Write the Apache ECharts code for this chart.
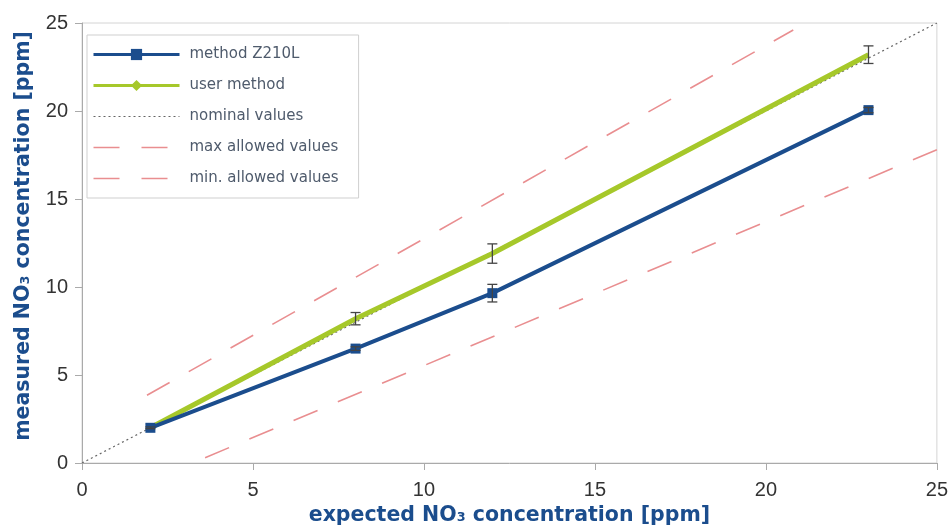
<!DOCTYPE html>
<html><head><meta charset="utf-8">
<script src="https://cdn.jsdelivr.net/npm/echarts@6/dist/echarts.min.js"></script>
<style>html,body{margin:0;padding:0;background:#fff}#c{width:951px;height:531px}</style>
</head><body><div id="c"></div>
<script>
const expected = [2, 8, 12, 23];
const z210L = [2.0, 6.5, 9.65, 20.05];
const z210LErr = [0.05, 0.1, 0.5, 0.15];
const userMethod = [2.0, 8.2, 11.9, 23.2];
const userErr = [0, 0.35, 0.55, 0.5];
const nominal = [[0, 0], [25, 25]];
const maxAllowed = [[1.9, 3.85], [20.8, 24.6]];
const minAllowed = [[3.6, 0.3], [25, 17.8]];
const axisTicks = [0, 5, 10, 15, 20, 25];

const blue = '#1b4d8d', green = '#a6c82a', red = '#e98e90';
const errData = [];
expected.forEach((x, i) => {
  errData.push([x, z210L[i] - z210LErr[i], z210L[i] + z210LErr[i]]);
  if (userErr[i] > 0) errData.push([x, userMethod[i] - userErr[i], userMethod[i] + userErr[i]]);
});

const chart = echarts.init(document.getElementById('c'));
const axisCommon = {
  type: 'value', min: axisTicks[0], max: axisTicks[axisTicks.length - 1], interval: 5,
  axisLine: { show: true, lineStyle: { color: '#aaa', width: 1 } },
  axisTick: { show: true, length: 7, lineStyle: { color: '#aaa' } },
  splitLine: { show: false },
  axisLabel: { color: '#333', fontSize: 20, fontFamily: 'Liberation Sans' },
  nameLocation: 'middle',
  nameTextStyle: { color: blue, fontSize: 20.5, fontWeight: 'bold', fontFamily: 'DejaVu Sans' }
};
chart.setOption({
  animation: false,
  grid: { left: 82, right: 12, top: 23, bottom: 66, show: true, borderColor: '#d4d4d4', borderWidth: 1 },
  xAxis: Object.assign({}, axisCommon, { name: 'expected NO₃ concentration [ppm]', nameGap: 42,
    axisLabel: Object.assign({}, axisCommon.axisLabel, { margin: 17 }) }),
  yAxis: Object.assign({}, axisCommon, { name: 'measured NO₃ concentration [ppm]', nameGap: 48,
    nameTextStyle: Object.assign({}, axisCommon.nameTextStyle, { padding: [0, 0, 0, 14] }),
    axisLabel: Object.assign({}, axisCommon.axisLabel, { margin: 14 }) }),
  legend: {
    orient: 'vertical', left: 87, top: 35, itemWidth: 86, itemHeight: 14, itemGap: 16,
    backgroundColor: '#fff', borderColor: '#cfcfcf', borderWidth: 1, padding: [12, 20, 12, 5],
    textStyle: { color: '#4f5b6c', fontSize: 15, fontFamily: 'DejaVu Sans', padding: [0, 0, 0, 5] },
    data: [
      { name: 'method Z210L', lineStyle: { width: 3 } },
      { name: 'user method', lineStyle: { width: 3 } },
      { name: 'nominal values', lineStyle: { width: 1.2 } },
      { name: 'max allowed values', lineStyle: { width: 1.6 } },
      { name: 'min. allowed values', lineStyle: { width: 1.6 } }
    ]
  },
  series: [
    { name: 'max allowed values', type: 'line', data: maxAllowed, symbol: 'none', z: 2,
      lineStyle: { color: red, width: 1.6, type: [26, 22] }, itemStyle: { color: 'rgba(0,0,0,0)' } },
    { name: 'min. allowed values', type: 'line', data: minAllowed, symbol: 'none', z: 2,
      lineStyle: { color: red, width: 1.6, type: [26, 22] }, itemStyle: { color: 'rgba(0,0,0,0)' } },
    { name: 'nominal values', type: 'line', data: nominal, symbol: 'none', z: 3,
      lineStyle: { color: '#666', width: 1.2, type: [2, 3] }, itemStyle: { color: 'rgba(0,0,0,0)' } },
    { name: 'user method', type: 'line', data: expected.map((x, i) => [x, userMethod[i]]),
      symbol: 'diamond', symbolSize: 9, showSymbol: false, z: 4,
      lineStyle: { color: green, width: 5 }, itemStyle: { color: green } },
    { name: 'method Z210L', type: 'line', data: expected.map((x, i) => [x, z210L[i]]),
      symbol: 'rect', symbolSize: 10, z: 5,
      lineStyle: { color: blue, width: 4 }, itemStyle: { color: blue } },
    { name: 'err', type: 'custom', z: 6, data: errData,
      renderItem: function (params, api) {
        const x = api.value(0);
        const lo = api.coord([x, api.value(1)]);
        const hi = api.coord([x, api.value(2)]);
        const w = 5;
        const st = { stroke: '#444', lineWidth: 1.3, fill: null };
        return { type: 'group', children: [
          { type: 'line', shape: { x1: lo[0], y1: lo[1], x2: hi[0], y2: hi[1] }, style: st },
          { type: 'line', shape: { x1: lo[0] - w, y1: lo[1], x2: lo[0] + w, y2: lo[1] }, style: st },
          { type: 'line', shape: { x1: hi[0] - w, y1: hi[1], x2: hi[0] + w, y2: hi[1] }, style: st }
        ] };
      } }
  ]
});
</script></body></html>
